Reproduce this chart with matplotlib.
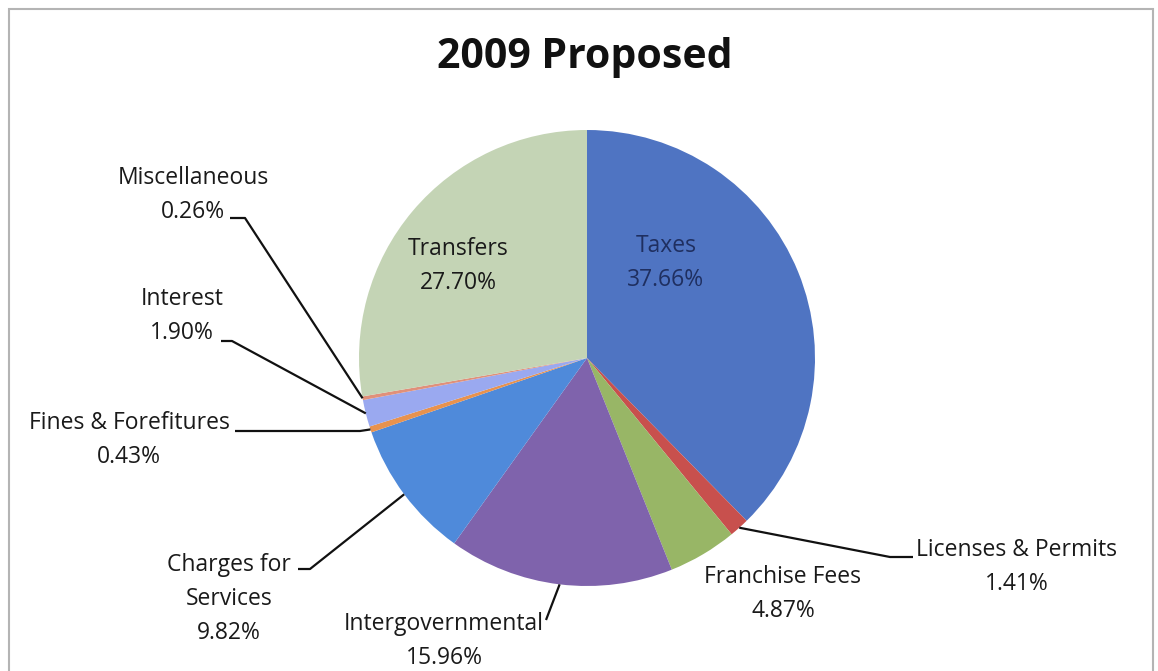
import numpy as np
import matplotlib.pyplot as plt

plt.rcParams['font.family'] = ['Open Sans', 'DejaVu Sans']

# Revenue shares, 2009 proposed budget (percent)
categories = ['Taxes', 'Licenses & Permits', 'Franchise Fees', 'Intergovernmental',
              'Charges for\nServices', 'Fines & Forefitures', 'Interest',
              'Miscellaneous', 'Transfers']
shares = [37.66, 1.41, 4.87, 15.96, 9.82, 0.43, 1.90, 0.26, 27.70]
colors = ['#4F74C2', '#C8504D', '#98B666', '#7F63AC', '#4F8ADA',
          '#E8924E', '#9AA9F0', '#E0907A', '#C4D4B5']

W, H = 1158, 671
cx, cy, R = 587, 358, 228   # pie centre / radius in pixels from top-left


def up(y):
    # pixel rows from the top -> data y
    return H - y


# label block centres (x, y from top)
label_pos = {
    'Taxes': (666, 263),
    'Licenses & Permits': (1017, 567),
    'Franchise Fees': (783, 594),
    'Intergovernmental': (444, 641),
    'Charges for\nServices': (229, 599),
    'Fines & Forefitures': (129, 440),
    'Interest': (182, 316),
    'Miscellaneous': (193, 195),
    'Transfers': (458, 266),
}
# leader lines: label end, then elbow, then to the wedge edge
leaders = {
    'Licenses & Permits': [(913, 557), (890, 557)],
    'Intergovernmental': [(546, 620)],
    'Charges for\nServices': [(298, 569), (310, 569)],
    'Fines & Forefitures': [(235, 431), (360, 431)],
    'Interest': [(221, 341), (232, 341)],
    'Miscellaneous': [(230, 218), (245, 218)],
}

fig = plt.figure(figsize=(W / 100, H / 100), dpi=100)
ax = fig.add_axes([0, 0, 1, 1])

ax.pie(shares, colors=colors, startangle=90, counterclock=False,
       center=(cx, up(cy)), radius=R, wedgeprops=dict(linewidth=0))

total = sum(shares)
cum = np.cumsum([0] + shares[:-1])
for name, val, c0 in zip(categories, shares, cum):
    txt = f'{name}\n{val:.2f}%'
    x, y = label_pos[name]
    col = '#1f2f60' if name == 'Taxes' else '#1a1a1a'
    ax.text(x, up(y), txt, ha='center', va='center', fontsize=16.5,
            color=col, linespacing=1.55)
    if name in leaders:
        mid = np.deg2rad(90 - 360 * (c0 + val / 2) / total)
        px = cx + R * np.cos(mid)
        py = up(cy) + R * np.sin(mid)
        pts = leaders[name]
        xs = [p[0] for p in pts] + [px]
        ys = [up(p[1]) for p in pts] + [py]
        ax.plot(xs, ys, color='#111111', lw=1.6, solid_capstyle='butt')

ax.text(585, up(57), '2009 Proposed', ha='center', va='center',
        fontsize=29.5, fontweight='bold', color='#111111')

# chart frame
ax.add_patch(plt.Rectangle((9, -10), 1144, up(9) + 10, fill=False,
                           edgecolor='#b4b4b4', lw=1.5))

ax.set_xlim(0, W)
ax.set_ylim(0, H)
ax.set_aspect('equal')
ax.axis('off')

fig.savefig('out.png', dpi=100, facecolor='white')
